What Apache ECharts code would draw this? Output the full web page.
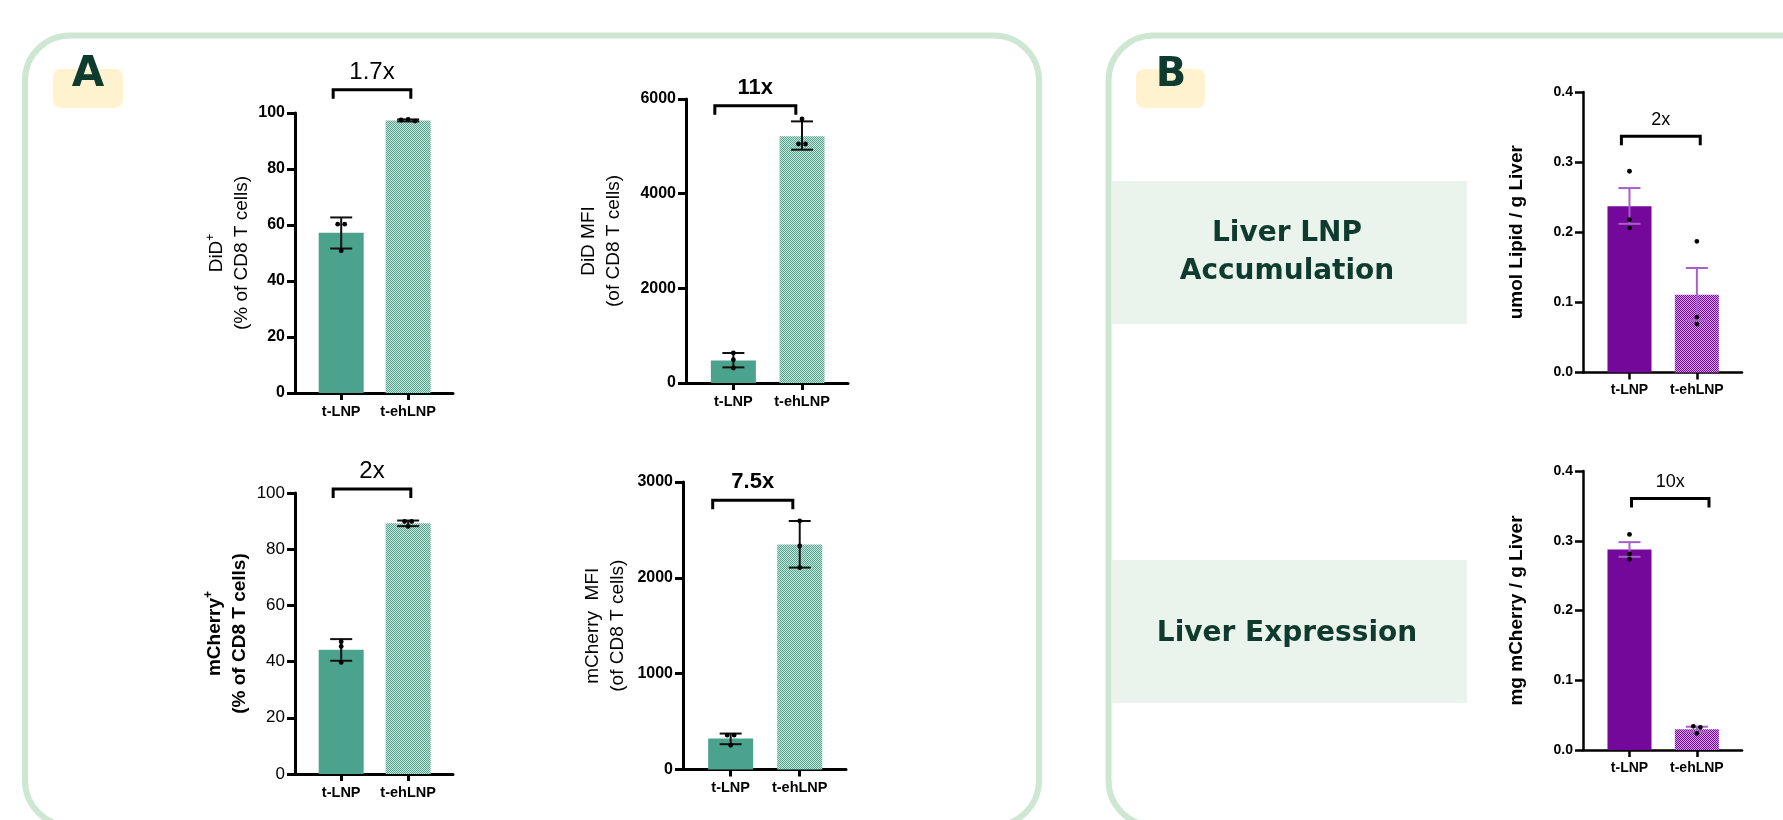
<!DOCTYPE html>
<html>
<head>
<meta charset="utf-8">
<script src="https://cdn.jsdelivr.net/npm/echarts@6/dist/echarts.min.js"></script>
<style>
  html, body { margin: 0; padding: 0; background: #fff; }
  #main { width: 1783px; height: 820px; }
</style>
</head>
<body>
<div id="main"></div>
<script>
// groups on every x axis
const groups = ['t-LNP', 't-ehLNP'];

// A, top left: DiD+ (% of CD8 T cells)
const didPctTicks = [0, 20, 40, 60, 80, 100];
const didPctMean = [57.2, 97.3];
const didPctErr = [[51.6, 62.7], [97.0, 97.7]];
const didPctPoints = [[60.3, 60.3, 50.8], [97.5, 97.7, 97.1]];

// A, top right: DiD MFI
const didMfiTicks = [0, 2000, 4000, 6000];
const didMfiMean = [475, 5215];
const didMfiErr = [[330, 634], [4929, 5527]];
const didMfiPoints = [[634, 493, 317], [5577, 5049, 5049]];

// A, bottom left: mCherry+ (% of CD8 T cells)
const mchPctTicks = [0, 20, 40, 60, 80, 100];
const mchPctMean = [44.2, 89.2];
const mchPctErr = [[40.3, 48.0], [88.2, 90.2]];
const mchPctPoints = [[47.1, 45.4, 39.7], [89.9, 89.9, 88.1]];

// A, bottom right: mCherry MFI
const mchMfiTicks = [0, 1000, 2000, 3000];
const mchMfiMean = [323, 2347];
const mchMfiErr = [[264, 375], [2107, 2593]];
const mchMfiPoints = [[358, 358, 253], [2593, 2332, 2107]];

// B, top: umol lipid / g liver
const lipidTicks = [0, 0.1, 0.2, 0.3, 0.4];
const lipidMean = [0.237, 0.111];
const lipidErr = [[0.212, 0.263], [0.0745, 0.149]];
const lipidPoints = [[0.287, 0.218, 0.206], [0.187, 0.079, 0.069]];

// B, bottom: mg mCherry / g liver
const liverMchTicks = [0, 0.1, 0.2, 0.3, 0.4];
const liverMchMean = [0.2874, 0.0296];
const liverMchErr = [[0.277, 0.298], [0.026, 0.0334]];
const liverMchPoints = [[0.309, 0.281, 0.2735], [0.034, 0.0325, 0.0239]];

const FONT = '"Liberation Sans", Arial, sans-serif';
const HEAD = '"DejaVu Sans", Lato, sans-serif';
const teal = '#4BA38D';
const tealLight = '#CFE9DF';
const purple = '#74089A';
const purpleLight = '#DCA2F6';
const ink = '#0E3B2E';

// fine checker fill like the prism hatched bars
function checker(color, light) {
  const c = document.createElement('canvas');
  c.width = 2; c.height = 2;
  const ctx = c.getContext('2d');
  ctx.fillStyle = light;
  ctx.fillRect(0, 0, 2, 2);
  ctx.fillStyle = color;
  ctx.fillRect(0, 0, 1, 1);
  ctx.fillRect(1, 1, 1, 1);
  return { image: c, repeat: 'repeat' };
}

const charts = [
  {
    grid: { left: 295, top: 113, width: 158, height: 280 },
    ticks: didPctTicks, mean: didPctMean, err: didPctErr, pts: didPctPoints,
    name: '{n|DiD}{sup|+}\n{n|(% of CD8 T cells)}', nameBold: false, nameGap: 40,
    tickBold: true, fill: teal, light: tealLight, errColor: '#111',
    bracket: { from: -0.12, to: 1.04, y: 108.3, text: '1.7x', bold: false, size: 24, lift: 17 }
  },
  {
    grid: { left: 686, top: 99, width: 162, height: 284 },
    ticks: didMfiTicks, mean: didMfiMean, err: didMfiErr, pts: didMfiPoints,
    name: '{n|DiD MFI}\n{n|(of CD8 T cells)}', nameBold: false, nameGap: 60,
    tickBold: true, fill: teal, light: tealLight, errColor: '#111',
    bracket: { from: -0.27, to: 0.91, y: 5858, text: '11x', bold: true, size: 22, lift: 18 }
  },
  {
    grid: { left: 295, top: 493, width: 158, height: 281 },
    ticks: mchPctTicks, mean: mchPctMean, err: mchPctErr, pts: mchPctPoints,
    name: '{n|mCherry}{sup|+}\n{n|(% of CD8 T cells)}', nameBold: true, nameGap: 40,
    tickBold: false, fill: teal, light: tealLight, errColor: '#111',
    bracket: { from: -0.12, to: 1.04, y: 101.4, text: '2x', bold: false, size: 24, lift: 17.5 }
  },
  {
    grid: { left: 683, top: 482, width: 163, height: 287.5 },
    ticks: mchMfiTicks, mean: mchMfiMean, err: mchMfiErr, pts: mchMfiPoints,
    name: '{n|mCherry  MFI}\n{n|(of CD8 T cells)}', nameBold: false, nameGap: 53,
    tickBold: true, fill: teal, light: tealLight, errColor: '#111',
    bracket: { from: -0.26, to: 0.9, y: 2809, text: '7.5x', bold: true, size: 22, lift: 18 }
  },
  {
    grid: { left: 1583, top: 92, width: 159, height: 280.5 },
    ticks: lipidTicks, mean: lipidMean, err: lipidErr, pts: lipidPoints,
    name: '{n|umol Lipid / g Liver}', nameBold: true, nameGap: 57, small: true,
    tickBold: true, fill: purple, light: purpleLight, errColor: '#A65FCB', fixed: 1,
    bracket: { from: -0.12, to: 1.05, y: 0.3368, text: '2x', bold: false, size: 18, lift: 16 }
  },
  {
    grid: { left: 1583, top: 471, width: 159, height: 279 },
    ticks: liverMchTicks, mean: liverMchMean, err: liverMchErr, pts: liverMchPoints,
    name: '{n|mg mCherry / g Liver}', nameBold: true, nameGap: 57, small: true,
    tickBold: true, fill: purple, light: purpleLight, errColor: '#A65FCB', fixed: 1,
    bracket: { from: 0.03, to: 1.18, y: 0.3605, text: '10x', bold: false, size: 18, lift: 16.5 }
  }
];

const grid = [], xAxis = [], yAxis = [], series = [];

charts.forEach((c, i) => {
  const axisW = c.small ? 2.5 : 3;
  grid.push(c.grid);

  xAxis.push({
    type: 'value', gridIndex: i, min: -0.69, max: 1.67,
    axisLine: { show: true, onZero: false, lineStyle: { color: '#000', width: axisW } },
    axisTick: { show: true, customValues: [0, 1], length: 7, lineStyle: { color: '#000', width: axisW } },
    axisLabel: {
      customValues: [0, 1], formatter: v => groups[Math.round(v)], margin: 11,
      color: '#000', fontWeight: 'bold', fontSize: c.small ? 14 : 14.5, fontFamily: FONT
    },
    splitLine: { show: false }
  });

  const last = c.ticks[c.ticks.length - 1];
  yAxis.push({
    type: 'value', gridIndex: i, min: c.ticks[0], max: last, interval: c.ticks[1] - c.ticks[0],
    axisLine: { show: true, onZero: false, lineStyle: { color: '#000', width: axisW } },
    axisTick: { show: true, length: 8, lineStyle: { color: '#000', width: axisW } },
    axisLabel: {
      margin: 10, color: '#000', fontFamily: FONT,
      fontWeight: c.tickBold ? 'bold' : 'normal',
      fontSize: c.small ? 14 : (c.tickBold ? 16 : 17),
      formatter: v => c.fixed ? v.toFixed(c.fixed) : String(v)
    },
    splitLine: { show: false },
    name: c.name, nameLocation: 'middle', nameRotate: 90, nameGap: c.nameGap,
    nameTextStyle: {
      color: '#000', fontFamily: FONT, lineHeight: c.small ? 19 : 25,
      rich: {
        n: { fontSize: 19, fontWeight: c.nameBold ? 'bold' : 'normal', fontFamily: FONT, color: '#000', lineHeight: c.small ? 19 : 25 },
        sup: { fontSize: 12, fontWeight: c.nameBold ? 'bold' : 'normal', fontFamily: FONT, color: '#000', verticalAlign: 'top', lineHeight: 25 }
      }
    }
  });

  // bars
  series.push({
    type: 'bar', xAxisIndex: i, yAxisIndex: i, barWidth: c.small ? 44 : 45, z: 2,
    data: c.mean.map((m, g) => ({
      value: [g, m],
      itemStyle: { color: g === 0 ? c.fill : checker(c.fill, c.light) }
    }))
  });

  // error bars
  series.push({
    type: 'custom', xAxisIndex: i, yAxisIndex: i, z: 3,
    data: c.err.map((e, g) => [g, e[0], e[1]]),
    renderItem: (params, api) => {
      const x = api.value(0);
      const lo = api.coord([x, api.value(1)]);
      const hi = api.coord([x, api.value(2)]);
      const st = { stroke: c.errColor, lineWidth: 2 };
      return {
        type: 'group',
        children: [
          { type: 'line', shape: { x1: lo[0], y1: lo[1], x2: hi[0], y2: hi[1] }, style: st },
          { type: 'line', shape: { x1: lo[0] - 11, y1: lo[1], x2: lo[0] + 11, y2: lo[1] }, style: st },
          { type: 'line', shape: { x1: hi[0] - 11, y1: hi[1], x2: hi[0] + 11, y2: hi[1] }, style: st }
        ]
      };
    }
  });

  // individual points, spread sideways when they overlap
  const dots = [];
  c.pts.forEach((vals, g) => vals.forEach((v, k) => dots.push([g, v, k])));
  series.push({
    type: 'custom', xAxisIndex: i, yAxisIndex: i, z: 4,
    data: dots,
    renderItem: (params, api) => {
      const g = api.value(0), k = api.value(2);
      const pys = c.pts[g].map(v => api.coord([g, v])[1]);
      const p = api.coord([g, api.value(1)]);
      const mates = pys.map((py, j) => j).filter(j => Math.abs(pys[j] - pys[k]) < 4.5);
      const pos = mates.indexOf(k);
      const dx = (pos - (mates.length - 1) / 2) * 7;
      return { type: 'circle', shape: { cx: p[0] + dx, cy: p[1], r: 2.4 }, style: { fill: '#000' } };
    }
  });

  // fold-change bracket
  const b = c.bracket;
  series.push({
    type: 'custom', xAxisIndex: i, yAxisIndex: i, z: 5,
    data: [[b.from, b.to, b.y]],
    renderItem: (params, api) => {
      const a = api.coord([api.value(0), api.value(2)]);
      const e = api.coord([api.value(1), api.value(2)]);
      return {
        type: 'group',
        children: [
          {
            type: 'polyline',
            shape: { points: [[a[0], a[1] + 9], [a[0], a[1]], [e[0], e[1]], [e[0], e[1] + 9]] },
            style: { stroke: '#000', lineWidth: 3, fill: null }
          },
          {
            type: 'text',
            style: {
              x: (a[0] + e[0]) / 2, y: a[1] - b.lift, text: b.text,
              align: 'center', verticalAlign: 'middle', fill: '#000',
              font: (b.bold ? 'bold ' : '') + b.size + 'px ' + FONT
            }
          }
        ]
      };
    }
  });
});

const panelStroke = '#CDE7D2';
const graphic = [
  { type: 'rect', z: -10, shape: { x: 25, y: 35.5, width: 1014, height: 790, r: 45 },
    style: { fill: '#fff', stroke: panelStroke, lineWidth: 6 } },
  { type: 'rect', z: -10, shape: { x: 1108.5, y: 35.5, width: 720, height: 790, r: 45 },
    style: { fill: '#fff', stroke: panelStroke, lineWidth: 6 } },
  { type: 'rect', z: -5, shape: { x: 53, y: 69, width: 70, height: 39, r: 8 }, style: { fill: '#FFF2CF' } },
  { type: 'text', z: -4, style: { x: 88, y: 75, text: 'A', align: 'center', verticalAlign: 'middle',
      fill: ink, font: 'bold 42px ' + HEAD } },
  { type: 'rect', z: -5, shape: { x: 1136, y: 69, width: 69, height: 39, r: 8 }, style: { fill: '#FFF2CF' } },
  { type: 'text', z: -4, style: { x: 1171, y: 76, text: 'B', align: 'center', verticalAlign: 'middle',
      fill: ink, font: 'bold 40px ' + HEAD } },
  { type: 'rect', z: -5, shape: { x: 1112, y: 181, width: 355, height: 143 }, style: { fill: '#EAF4EC' } },
  { type: 'text', z: -4, style: { x: 1287, y: 253, text: 'Liver LNP\nAccumulation', align: 'center',
      verticalAlign: 'middle', lineHeight: 38, fill: ink, font: 'bold 28px ' + HEAD } },
  { type: 'rect', z: -5, shape: { x: 1112, y: 560, width: 355, height: 143 }, style: { fill: '#EAF4EC' } },
  { type: 'text', z: -4, style: { x: 1287, y: 634, text: 'Liver Expression', align: 'center',
      verticalAlign: 'middle', fill: ink, font: 'bold 28px ' + HEAD } }
];

const myChart = echarts.init(document.getElementById('main'), null, { renderer: 'canvas' });
myChart.setOption({
  animation: false,
  backgroundColor: '#fff',
  textStyle: { fontFamily: FONT },
  graphic: graphic,
  grid: grid,
  xAxis: xAxis,
  yAxis: yAxis,
  series: series
});

window.addEventListener('resize', () => {
  myChart && myChart.resize();
});
</script>
</body>
</html>
